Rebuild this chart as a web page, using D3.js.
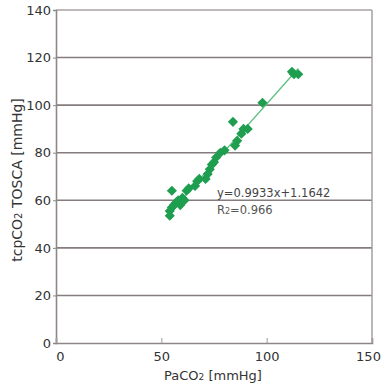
<!DOCTYPE html>
<html>
<head>
<meta charset="utf-8">
<script src="https://cdn.jsdelivr.net/npm/d3@7"></script>
<style>
  body { margin: 0; background: #fff; }
  text { font-family: "DejaVu Sans", Verdana, sans-serif; fill: #333; }
</style>
</head>
<body>
<svg id="chart" width="386" height="386"></svg>
<script>
// PaCO2 vs tcpCO2 (TOSCA) readings, mmHg
var paco2 = [54, 54, 55, 55, 56, 57, 58, 59, 60, 61, 62, 63, 66, 67, 68, 71, 72, 73, 74, 75, 76, 78, 80, 85, 86, 84, 88, 89, 91, 98, 112, 113, 115]
var tcpco2 = [53.5, 55.5, 57, 64, 58, 59, 60, 58, 61, 60, 64, 65, 66, 68, 69, 69, 71, 73, 75, 76, 78, 80, 81, 83, 85, 93, 88, 90, 90, 101, 114, 113, 113]
var xTicks = [0, 50, 100, 150]
var yTicks = [0, 20, 40, 60, 80, 100, 120, 140]
var slope = 0.9933, intercept = 1.1642

var svg = d3.select("#chart")
var plot = { left: 56, right: 372, top: 10, bottom: 343 }

var x = d3.scaleLinear().domain([0, 150]).range([plot.left, plot.right])
var y = d3.scaleLinear().domain([0, 140]).range([plot.bottom, plot.top])

// horizontal grid lines
svg.append("g")
  .selectAll("line")
  .data(yTicks.filter(function(d) { return d > 0 }))
  .enter()
  .append("line")
  .attr("x1", plot.left).attr("x2", plot.right)
  .attr("y1", function(d) { return y(d) })
  .attr("y2", function(d) { return y(d) })
  .style("stroke", function(d) { return d == 140 ? "#aaa3a3" : "#857d7d" })
  .style("stroke-width", 1.6)

// right frame
svg.append("line").attr("x1", plot.right).attr("x2", plot.right).attr("y1", plot.top).attr("y2", plot.bottom)
  .style("stroke", "#a09a9a").style("stroke-width", 1.4)

var yAxis = svg.append("g")
  .attr("transform", "translate(" + plot.left + ",0)")
  .call(d3.axisLeft(y).tickValues(yTicks).tickSize(3).tickPadding(2))
yAxis.select(".domain").style("stroke", "#8f8787").style("stroke-width", 1.6)
yAxis.selectAll(".tick line").style("stroke", "#8f8787")
yAxis.selectAll("text").style("font-size", "13px").style("fill", "#333")

var xAxis = svg.append("g")
  .attr("transform", "translate(0," + plot.bottom + ")")
  .call(d3.axisBottom(x).tickValues(xTicks).tickSize(-5).tickPadding(9))
xAxis.select(".domain").style("stroke", "#8f8787").style("stroke-width", 1.6)
xAxis.selectAll(".tick line").style("stroke", "#a09a9a")
xAxis.selectAll("text").style("font-size", "13px").style("fill", "#333")
xAxis.selectAll(".tick").filter(function(d) { return d == 0 }).select("text").attr("dx", 4)
xAxis.selectAll(".tick").filter(function(d) { return d == 150 }).select("text").attr("dx", -4)

// regression line
var xMin = d3.min(paco2), xMax = d3.max(paco2)
svg.append("line")
  .attr("x1", x(xMin)).attr("y1", y(slope * xMin + intercept))
  .attr("x2", x(xMax)).attr("y2", y(slope * xMax + intercept))
  .style("stroke", "#5cbf80").style("stroke-width", 1.3)

// points as diamonds
var pts = paco2.map(function(d, i) { return [d, tcpco2[i]] })
svg.append("g")
  .selectAll("path")
  .data(pts)
  .enter()
  .append("path")
  .attr("d", d3.symbol().type(d3.symbolDiamond2).size(66))
  .attr("transform", function(d) { return "translate(" + x(d[0]) + "," + y(d[1]) + ")" })
  .style("fill", "#1f9e50")

// equation
svg.append("text").attr("x", 217).attr("y", 197)
  .style("font-size", "11.5px").style("fill", "#444")
  .text("y=0.9933x+1.1642")
var r2 = svg.append("text").attr("x", 217).attr("y", 214)
  .style("font-size", "11.5px").style("fill", "#555")
r2.append("tspan").text("R")
r2.append("tspan").style("font-size", "8px").text("2")
r2.append("tspan").text("=0.966")

// axis titles
var xt = svg.append("text").attr("x", 213).attr("y", 380)
  .attr("text-anchor", "middle").style("font-size", "13px")
xt.append("tspan").text("PaCO")
xt.append("tspan").style("font-size", "9px").text("2")
xt.append("tspan").text(" [mmHg]")

var yt = svg.append("text")
  .attr("transform", "translate(22,180) rotate(-90)")
  .attr("text-anchor", "middle").style("font-size", "14px")
yt.append("tspan").text("tcpCO")
yt.append("tspan").style("font-size", "10px").text("2")
yt.append("tspan").text(" TOSCA [mmHg]")
</script>
</body>
</html>
